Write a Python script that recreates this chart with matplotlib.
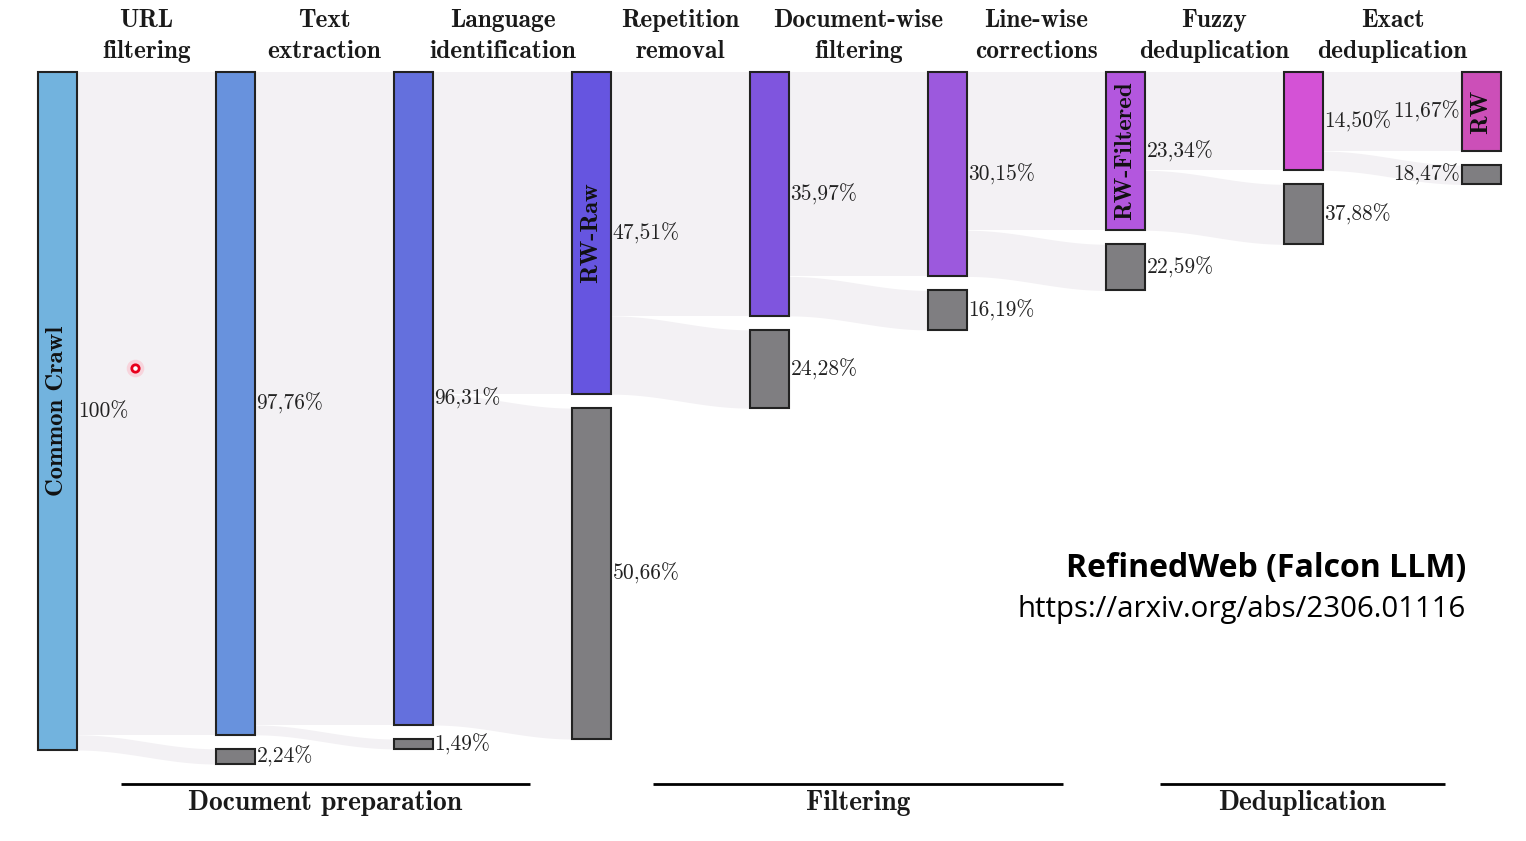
import numpy as np
import matplotlib
matplotlib.use("Agg")
import matplotlib.pyplot as plt

# stage names (headers between the columns)
stages = ["URL\nfiltering", "Text\nextraction", "Language\nidentification",
          "Repetition\nremoval", "Document-wise\nfiltering", "Line-wise\ncorrections",
          "Fuzzy\ndeduplication", "Exact\ndeduplication"]
# share of Common Crawl kept after each stage (%)
kept = [100.0, 97.76, 96.31, 47.51, 35.97, 30.15, 23.34, 14.50, 11.67]
# share removed at each stage, relative to the stage input (%)
removed = [2.24, 1.49, 50.66, 24.28, 16.19, 22.59, 37.88, 18.47]
node_names = {0: "Common Crawl", 3: "RW-Raw", 6: "RW-Filtered", 8: "RW"}
groups = ["Document preparation", "Filtering", "Deduplication"]
group_span = [(0.466, 2.764), (3.455, 5.758), (6.303, 7.904)]

bar_colors = ["#72b3de", "#6892dd", "#6470dd", "#6655e0", "#7f55de",
              "#9c59dd", "#b357de", "#d452d6", "#cc4fb8"]
gray = "#7f7e81"
flow_col = "#f3f1f4"
bw = 39 / 178      # bar width in column units
gap = 14 / 6.78    # gap between kept and removed bar (% units)

serif = ["cmr10", "DejaVu Serif"]
serif_b = ["cmb10", "DejaVu Serif"]
pct_size = 15.5


def fmt(v):
    if v == 100:
        return "100%"
    return ("%.2f%%" % v).replace(".", ",")


fig = plt.figure(figsize=(15.26, 8.41), dpi=100)
ax = fig.add_axes([0, 0, 1, 1])
ax.set_xlim(-38 / 178, (1526 - 38) / 178)
ax.set_ylim((841 - 72) / 6.78, -72 / 6.78)
ax.axis("off")

# flows
t = np.linspace(0, 1, 100)
s = (1 - np.cos(np.pi * t)) / 2
for i in range(len(kept) - 1):
    x0, x1 = i + bw, i + 1
    xs = x0 + (x1 - x0) * t
    ax.fill_between([x0, x1], 0, kept[i + 1], color=flow_col, lw=0, zorder=1)
    ax.fill_between(xs, kept[i + 1] + gap * s, kept[i] + gap * s,
                    color=flow_col, lw=0, zorder=1)

last = len(kept) - 1

# kept bars
for i, k in enumerate(kept):
    ax.bar(i, k, width=bw, bottom=0, align="edge", color=bar_colors[i],
           edgecolor="#222222", lw=1.5, zorder=3)
    if i == last:
        ax.text(i - 0.012, k / 2, fmt(k), ha="right", va="center",
                fontsize=pct_size, family=serif, color="#222222", zorder=4)
    else:
        ax.text(i + bw + 0.008, k / 2, fmt(k), ha="left", va="center",
                fontsize=pct_size, family=serif, color="#222222", zorder=4)
    if i in node_names:
        ax.text(i + bw / 2, k / 2, node_names[i], rotation=90, ha="center",
                va="center", fontsize=17.8, family=serif_b, color="#111111",
                zorder=4)

# removed bars
for i, r in enumerate(removed):
    col = i + 1
    h = kept[i] - kept[i + 1]
    top = kept[i + 1] + gap
    ax.bar(col, h, width=bw, bottom=top, align="edge", color=gray,
           edgecolor="#222222", lw=1.5, zorder=3)
    if col == last:
        ax.text(col - 0.012, top + h / 2, fmt(r), ha="right", va="center",
                fontsize=pct_size, family=serif, color="#222222", zorder=4)
    else:
        ax.text(col + bw + 0.008, top + h / 2, fmt(r), ha="left", va="center",
                fontsize=pct_size, family=serif, color="#222222", zorder=4)

# stage headers
for i, name in enumerate(stages):
    xc = i + (1 + bw) / 2
    ax.text(xc, (36 - 72) / 6.78, name, ha="center", va="center",
            fontsize=18.3, family=serif_b, linespacing=1.45, color="#1a1a1a")

# group labels
yl = (784 - 72) / 6.78
for name, (a, b) in zip(groups, group_span):
    ax.plot([a, b], [yl, yl], color="black", lw=2, solid_capstyle="butt")
    ax.text((a + b) / 2, (803 - 72) / 6.78, name, ha="center", va="center",
            fontsize=19.8, family=serif_b, color="#1a1a1a")

# cursor marker from the screen capture
ax.scatter([0.545], [43.66], s=160, color="#ff9fb0", alpha=0.35, lw=0, zorder=5)
ax.scatter([0.545], [43.66], s=28, facecolor="white", edgecolor="#e8001c",
           lw=2, zorder=6)

fig.text(1466 / 1526, 1 - 569 / 841, "RefinedWeb (Falcon LLM)", ha="right",
         va="center", fontsize=23, fontweight="bold", family="Open Sans")
fig.text(1466 / 1526, 1 - 610 / 841, "https://arxiv.org/abs/2306.01116",
         ha="right", va="center", fontsize=21.2, family="Open Sans")

fig.savefig("out.png", dpi=100, facecolor="white")
